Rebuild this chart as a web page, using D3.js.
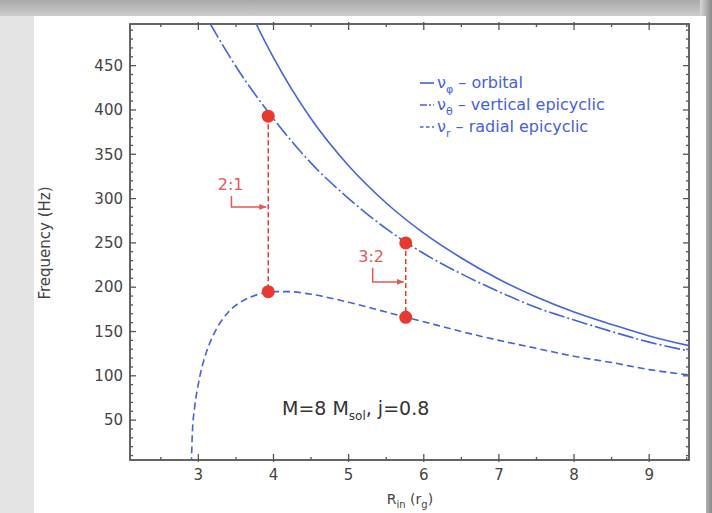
<!DOCTYPE html>
<html>
<head>
<meta charset="utf-8"/>
<title>QPO frequencies</title>
<style>
    body { margin: 0; padding: 0; overflow: hidden; }
    svg { display: block; }
    .tick-label { font-family: "DejaVu Sans", sans-serif; font-size: 15px; fill: #444; }
    .axis-title { font-family: "DejaVu Sans", sans-serif; font-size: 14px; fill: #444; }
    .legend text { font-family: "DejaVu Sans", sans-serif; font-size: 16px; fill: #4660dc; }
    .ratio { font-family: "DejaVu Sans", sans-serif; font-size: 16px; fill: #e25a55; }
    .note { font-family: "DejaVu Sans", sans-serif; font-size: 19px; fill: #333; }
</style>
</head>
<body>
<div id="chart"></div>
<script src="https://d3js.org/d3.v7.min.js"></script>
<script>

    // curves (R in r_g, frequency in Hz)
    var orbitalR  = [3.6, 3.77, 4, 4.5, 5, 5.5, 6, 6.5, 7, 7.5, 8, 8.5, 9, 9.53];
    var orbitalNu = [529, 497, 459, 390, 337, 295, 261, 233, 209, 189, 172, 158, 145, 134];

    var verticalR  = [3.0, 3.16, 3.5, 4, 4.5, 5, 5.5, 6, 6.5, 7, 7.5, 8, 8.5, 9, 9.53];
    var verticalNu = [521, 497, 449, 390, 340, 300, 266, 238, 215, 195, 177, 163, 150, 138, 128];

    var radialR  = [2.907, 2.92, 2.95, 3.0, 3.1, 3.2, 3.4, 3.6, 3.8, 4.0, 4.2, 4.5, 5, 5.5, 6, 6.5, 7, 7.5, 8, 8.5, 9, 9.53];
    var radialNu = [0, 36, 64, 91, 125, 146, 172, 185, 192, 195, 195, 192, 183, 172, 161, 150, 140, 131, 122, 115, 107, 101];

    // resonance points
    var resR     = [3.93, 5.76];
    var resUpper = [393, 250];
    var resLower = [195, 166];
    var resLabel = ["2:1", "3:2"];
    // label position and bracket (top, corner, arrow tip) in data units
    var labelR   = [3.43, 5.30];
    var labelNu  = [316, 235];
    var bracketR   = [3.44, 5.32];
    var bracketTop = [303, 222];
    var bracketMid = [290.5, 206];
    var arrowTipR  = [3.90, 5.73];

    var xTicks = [3, 4, 5, 6, 7, 8, 9];
    var yTicks = [50, 100, 150, 200, 250, 300, 350, 400, 450];

    var W = 712, H = 513;
    var margin = {left: 130, right: 689, top: 24, bottom: 460};

    var x = d3.scaleLinear().domain([2.09, 9.53]).range([margin.left, margin.right]);
    var y = d3.scaleLinear().domain([5, 497]).range([margin.bottom, margin.top]);

    var blue = "#4562d9", red = "#e8392e";

    var svg = d3.select("#chart").append("svg")
        .attr("width", W)
        .attr("height", H);

    var defs = svg.append("defs");

    var topGrad = defs.append("linearGradient").attr("id", "topGrad")
        .attr("x1", 0).attr("y1", 0).attr("x2", 0).attr("y2", 1);
    topGrad.append("stop").attr("offset", "0%").attr("stop-color", "#a9a9a9");
    topGrad.append("stop").attr("offset", "100%").attr("stop-color", "#cdcdcd");

    var rightGrad = defs.append("linearGradient").attr("id", "rightGrad")
        .attr("x1", 0).attr("y1", 0).attr("x2", 1).attr("y2", 0);
    rightGrad.append("stop").attr("offset", "0%").attr("stop-color", "#d8d8d8");
    rightGrad.append("stop").attr("offset", "100%").attr("stop-color", "#8a8a8a");

    defs.append("clipPath").attr("id", "plotClip")
        .append("rect")
        .attr("x", margin.left).attr("y", margin.top)
        .attr("width", margin.right - margin.left)
        .attr("height", margin.bottom - margin.top);

    defs.append("marker")
        .attr("id", "arrow")
        .attr("viewBox", "0 0 10 10")
        .attr("refX", 9).attr("refY", 5)
        .attr("markerWidth", 5).attr("markerHeight", 5)
        .attr("orient", "auto")
        .append("path")
        .attr("d", "M0,1L10,5L0,9Z")
        .attr("fill", "#e25a55");

    /* background frame */
    svg.append("rect").attr("width", W).attr("height", H).attr("fill", "#e4e4e4");
    svg.append("rect").attr("width", W).attr("height", 16).attr("fill", "url(#topGrad)");
    svg.append("rect").attr("x", 700).attr("width", 12).attr("height", H).attr("fill", "url(#rightGrad)");
    svg.append("rect")
        .attr("x", 34).attr("y", 16)
        .attr("width", 672).attr("height", H - 16)
        .attr("fill", "#ffffff");

    /* ticks */
    var ticks = svg.append("g").attr("stroke", "#555").attr("stroke-width", 1.3);

    var xMinor = d3.range(2.5, 9.6, 1);
    var yMinor = d3.range(10, 497, 10).filter(function (v) { return v % 50 !== 0; });

    xTicks.forEach(function (t) {
        ticks.append("line").attr("x1", x(t)).attr("x2", x(t))
            .attr("y1", margin.bottom + 2).attr("y2", margin.bottom - 6);
        ticks.append("line").attr("x1", x(t)).attr("x2", x(t))
            .attr("y1", margin.top - 2).attr("y2", margin.top + 6);
    });
    xMinor.forEach(function (t) {
        ticks.append("line").attr("x1", x(t)).attr("x2", x(t))
            .attr("y1", margin.bottom).attr("y2", margin.bottom - 3);
        ticks.append("line").attr("x1", x(t)).attr("x2", x(t))
            .attr("y1", margin.top).attr("y2", margin.top + 3);
    });
    yTicks.forEach(function (t) {
        ticks.append("line").attr("y1", y(t)).attr("y2", y(t))
            .attr("x1", margin.left).attr("x2", margin.left + 6);
        ticks.append("line").attr("y1", y(t)).attr("y2", y(t))
            .attr("x1", margin.right).attr("x2", margin.right - 6);
    });
    yMinor.forEach(function (t) {
        ticks.append("line").attr("y1", y(t)).attr("y2", y(t))
            .attr("x1", margin.left).attr("x2", margin.left + 3);
        ticks.append("line").attr("y1", y(t)).attr("y2", y(t))
            .attr("x1", margin.right).attr("x2", margin.right - 3);
    });

    /* frame */
    svg.append("rect")
        .attr("x", margin.left).attr("y", margin.top)
        .attr("width", margin.right - margin.left)
        .attr("height", margin.bottom - margin.top)
        .attr("fill", "none")
        .attr("stroke", "#555")
        .attr("stroke-width", 1.8);

    /* tick labels */
    svg.append("g").selectAll("text")
        .data(xTicks).enter().append("text")
        .attr("class", "tick-label")
        .attr("x", function (d) { return x(d); })
        .attr("y", margin.bottom + 20)
        .attr("text-anchor", "middle")
        .text(function (d) { return d; });

    svg.append("g").selectAll("text")
        .data(yTicks).enter().append("text")
        .attr("class", "tick-label")
        .attr("x", margin.left - 7)
        .attr("y", function (d) { return y(d); })
        .attr("dy", "0.35em")
        .attr("text-anchor", "end")
        .text(function (d) { return d; });

    /* axis titles */
    var xTitle = svg.append("text")
        .attr("class", "axis-title")
        .attr("x", 410).attr("y", 504)
        .attr("text-anchor", "middle");
    xTitle.append("tspan").text("R");
    xTitle.append("tspan").attr("dy", 4).style("font-size", "10px").text("in");
    xTitle.append("tspan").attr("dy", -4).text(" (r");
    xTitle.append("tspan").attr("dy", 4).style("font-size", "10px").text("g");
    xTitle.append("tspan").attr("dy", -4).text(")");

    svg.append("text")
        .attr("class", "axis-title")
        .style("font-size", "15px")
        .attr("transform", "translate(50,243) rotate(-90)")
        .attr("text-anchor", "middle")
        .text("Frequency (Hz)");

    /* curves */
    var line = d3.line()
        .x(function (d) { return x(d[0]); })
        .y(function (d) { return y(d[1]); })
        .curve(d3.curveMonotoneX);

    var curves = [
        {r: orbitalR, nu: orbitalNu, dash: null},
        {r: verticalR, nu: verticalNu, dash: "16,3,2,3"},
        {r: radialR, nu: radialNu, dash: "7,4"}
    ];

    var curveG = svg.append("g").attr("clip-path", "url(#plotClip)");
    curves.forEach(function (c) {
        curveG.append("path")
            .datum(d3.zip(c.r, c.nu))
            .attr("d", line)
            .attr("fill", "none")
            .attr("stroke", blue)
            .attr("stroke-width", 1.6)
            .attr("stroke-dasharray", c.dash);
    });

    /* resonances */
    var res = svg.append("g");
    resR.forEach(function (r, i) {
        res.append("line")
            .attr("x1", x(r)).attr("x2", x(r))
            .attr("y1", y(resUpper[i])).attr("y2", y(resLower[i]))
            .attr("stroke", red)
            .attr("stroke-width", 1.5)
            .attr("stroke-dasharray", "5,3");

        res.append("path")
            .attr("d", "M" + x(bracketR[i]) + "," + y(bracketTop[i]) +
                "L" + x(bracketR[i]) + "," + y(bracketMid[i]) +
                "L" + x(arrowTipR[i]) + "," + y(bracketMid[i]))
            .attr("fill", "none")
            .attr("stroke", "#e25a55")
            .attr("stroke-width", 1.5)
            .attr("marker-end", "url(#arrow)");

        res.append("text")
            .attr("class", "ratio")
            .attr("x", x(labelR[i]))
            .attr("y", y(labelNu[i]))
            .attr("dy", "0.35em")
            .attr("text-anchor", "middle")
            .text(resLabel[i]);

        [resUpper[i], resLower[i]].forEach(function (nu) {
            res.append("circle")
                .attr("cx", x(r)).attr("cy", y(nu))
                .attr("r", 6.5)
                .attr("fill", red);
        });
    });

    /* legend */
    var legendRows = [
        {sym: "\u03C6", txt: " \u2013 orbital", dash: null},
        {sym: "\u03B8", txt: " \u2013 vertical epicyclic", dash: "7,2,2,2"},
        {sym: "r", txt: " \u2013 radial epicyclic", dash: "3.5,2.5"}
    ];
    var legend = svg.append("g").attr("class", "legend");
    legendRows.forEach(function (d, i) {
        var ly = 83 + i * 22;
        legend.append("line")
            .attr("x1", 420).attr("x2", 434)
            .attr("y1", ly).attr("y2", ly)
            .attr("stroke", blue)
            .attr("stroke-width", 1.6)
            .attr("stroke-dasharray", d.dash);
        var t = legend.append("text")
            .attr("x", 437).attr("y", ly).attr("dy", "0.32em");
        t.append("tspan").text("\u03BD");
        t.append("tspan").attr("dy", 5).style("font-size", "11px").text(d.sym);
        t.append("tspan").attr("dy", -5).text(d.txt);
    });

    /* parameters */
    var note = svg.append("text")
        .attr("class", "note")
        .attr("x", 282).attr("y", 415);
    note.append("tspan").text("M=8 M");
    note.append("tspan").attr("dy", 5).style("font-size", "12px").text("sol");
    note.append("tspan").attr("dy", -5).text(", j=0.8");

</script>
</body>
</html>
